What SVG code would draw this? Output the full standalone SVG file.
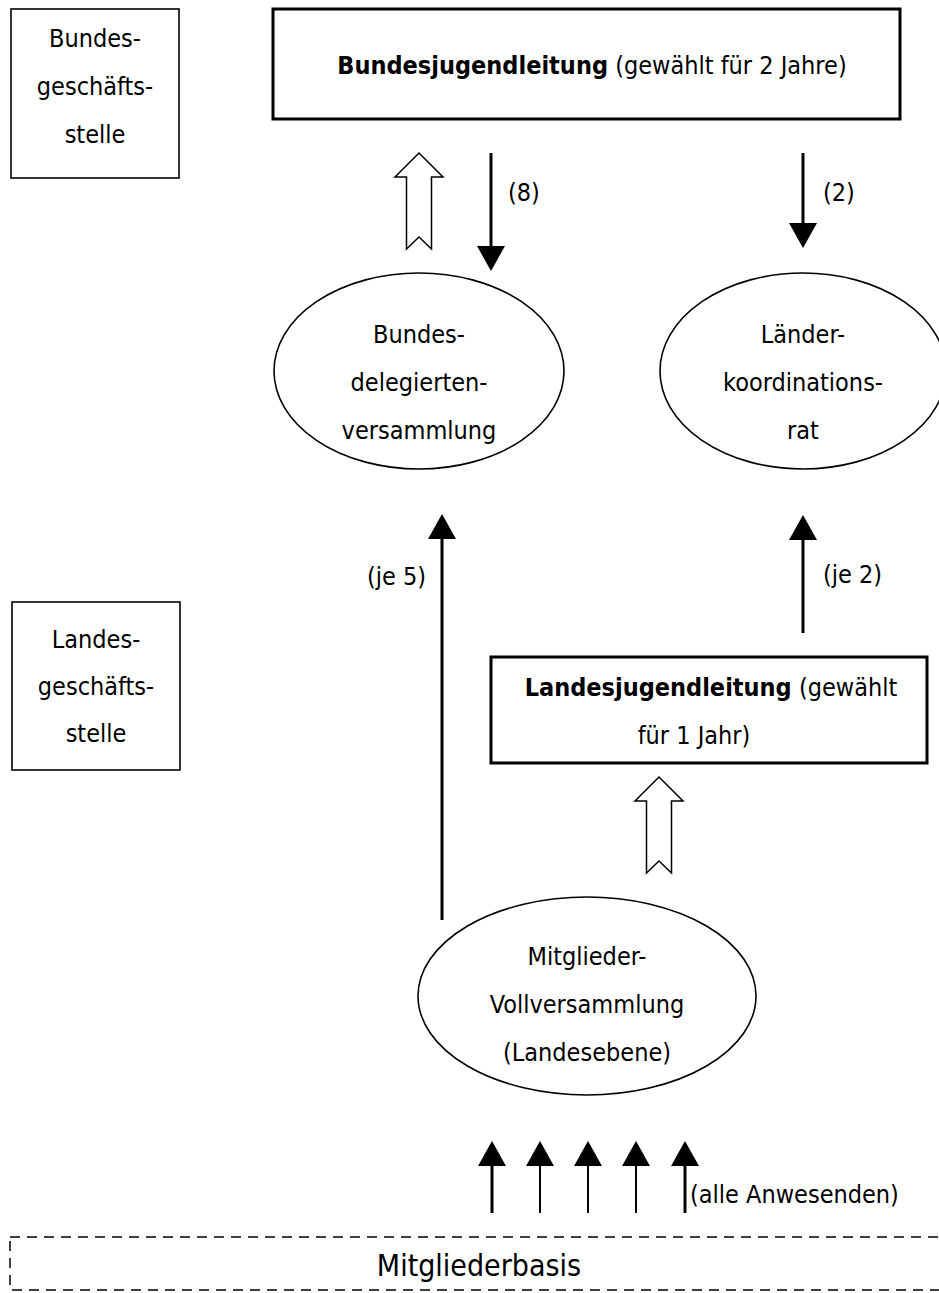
<svg xmlns="http://www.w3.org/2000/svg" width="939" height="1293" viewBox="0 0 939 1293">
  <style>
    .t { font-family: 'DejaVu Sans Condensed', 'DejaVu Sans', sans-serif; font-size: 25px; fill: #000; }
    .m { text-anchor: middle; }
    .b { font-weight: bold; }
    .thin { fill: #fff; stroke: #000; stroke-width: 1.6; }
    .thick { fill: #fff; stroke: #000; stroke-width: 3; }
    .conn { stroke: #000; stroke-width: 3; fill: none; marker-end: url(#head); }
    .conn2 { stroke: #000; stroke-width: 2; fill: none; marker-end: url(#head); }
    .hollow { fill: #fff; stroke: #000; stroke-width: 1.5; stroke-linejoin: miter; }
    .dash { fill: none; stroke: #000; stroke-width: 1.5; stroke-dasharray: 10 7; }
  </style>
  <defs>
    <marker id="head" markerUnits="userSpaceOnUse" markerWidth="26" markerHeight="28" refX="0" refY="14" orient="auto">
      <path d="M0,0 L25,14 L0,28 z" fill="#000"/>
    </marker>
    <!-- outlined "election" arrow, tip at origin pointing up -->
    <path id="hollowUp" d="M0,0 L24,24 L12.5,24 L12.5,96 L0,84 L-12.5,96 L-12.5,24 L-24,24 z"/>
  </defs>

  <rect width="939" height="1293" fill="#fff"/>

  <g id="bundesgeschaeftsstelle">
    <rect class="thin" x="11" y="9" width="168" height="169"/>
    <text class="t m" x="95" y="47">Bundes-</text>
    <text class="t m" x="95" y="95">geschäfts-</text>
    <text class="t m" x="95" y="143">stelle</text>
  </g>

  <g id="bundesjugendleitung">
    <rect class="thick" x="273" y="9" width="627" height="110"/>
    <text class="t m" x="592" y="74"><tspan class="b">Bundesjugendleitung</tspan> (gewählt für 2 Jahre)</text>
  </g>

  <g id="bundesdelegiertenversammlung">
    <ellipse class="thin" cx="419" cy="371" rx="145" ry="98"/>
    <text class="t m" x="419" y="343">Bundes-</text>
    <text class="t m" x="419" y="391">delegierten-</text>
    <text class="t m" x="419" y="439">versammlung</text>
  </g>

  <g id="laenderkoordinationsrat">
    <ellipse class="thin" cx="803" cy="371" rx="143" ry="98"/>
    <text class="t m" x="803" y="343">Länder-</text>
    <text class="t m" x="803" y="391">koordinations-</text>
    <text class="t m" x="803" y="439">rat</text>
  </g>

  <g id="landesgeschaeftsstelle">
    <rect class="thin" x="12" y="602" width="168" height="168"/>
    <text class="t m" x="96" y="648">Landes-</text>
    <text class="t m" x="96" y="695">geschäfts-</text>
    <text class="t m" x="96" y="742">stelle</text>
  </g>

  <g id="landesjugendleitung">
    <rect class="thick" x="491" y="657" width="436" height="106"/>
    <text class="t m" x="711" y="696"><tspan class="b">Landesjugendleitung</tspan> (gewählt</text>
    <text class="t m" x="694" y="744">für 1 Jahr)</text>
  </g>

  <g id="mitgliedervollversammlung">
    <ellipse class="thin" cx="587" cy="996" rx="169" ry="99"/>
    <text class="t m" x="587" y="965">Mitglieder-</text>
    <text class="t m" x="587" y="1013">Vollversammlung</text>
    <text class="t m" x="587" y="1061">(Landesebene)</text>
  </g>

  <g id="mitgliederbasis">
    <rect class="dash" x="10" y="1237" width="940" height="53"/>
    <text class="t m" x="479" y="1276" style="font-size:30px">Mitgliederbasis</text>
  </g>

  <g id="connectors">
    <!-- elections (outlined arrows) -->
    <use href="#hollowUp" class="hollow" x="419" y="153"/>
    <use href="#hollowUp" class="hollow" x="659" y="777"/>

    <!-- delegations (filled arrowheads) -->
    <line class="conn" x1="491" y1="153" x2="491" y2="246"/>
    <text class="t" x="508" y="201">(8)</text>

    <line class="conn" x1="803" y1="153" x2="803" y2="223"/>
    <text class="t" x="823" y="201">(2)</text>

    <line class="conn" x1="442" y1="920" x2="442" y2="539"/>
    <text class="t" x="367" y="585">(je 5)</text>

    <line class="conn" x1="803" y1="633" x2="803" y2="540"/>
    <text class="t" x="823" y="583">(je 2)</text>

    <!-- all members present -->
    <line class="conn" x1="492" y1="1213" x2="492" y2="1166"/>
    <line class="conn2" x1="540" y1="1213" x2="540" y2="1166"/>
    <line class="conn2" x1="588" y1="1213" x2="588" y2="1166"/>
    <line class="conn2" x1="636" y1="1213" x2="636" y2="1166"/>
    <line class="conn" x1="685" y1="1213" x2="685" y2="1166"/>
    <text class="t" x="690" y="1203">(alle Anwesenden)</text>
  </g>
</svg>
